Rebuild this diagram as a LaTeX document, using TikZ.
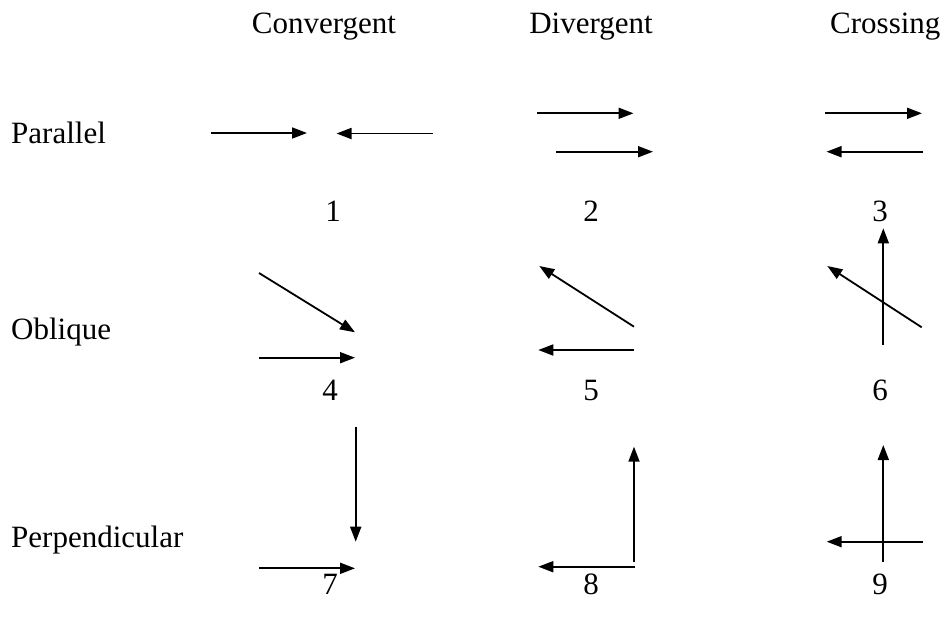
\documentclass[tikz,border=0pt]{standalone}
\usepackage{fontspec}
\setmainfont{Liberation Serif}
\usetikzlibrary{arrows.meta}
\begin{document}
\begin{tikzpicture}[x=1pt,y=-1pt,
  lbl/.style={inner sep=0pt,font=\fontsize{31}{36}\selectfont},
  arr/.style={line width=1.8pt,-{Triangle[length=15pt,width=11pt]}}]
\useasboundingbox (0,0) rectangle (942,625);
% headers
\node[lbl,anchor=base west] (hconv) at (251.7,33.3) {Convergent};
\node[lbl,anchor=base] (hdiv) at (591,33.3) {Divergent};
\node[lbl,anchor=base west] (hcross) at (830,33.3) {Crossing};
% row labels
\node[lbl,anchor=base west] (rpar) at (11,143.3) {Parallel};
\node[lbl,anchor=base west] (robl) at (11,339) {Oblique};
\node[lbl,anchor=base west] (rperp) at (11,547.3) {Perpendicular};
% numbers
\node[lbl,anchor=base] (n1) at (333,221) {1};
\node[lbl,anchor=base] (n2) at (591,221) {2};
\node[lbl,anchor=base] (n3) at (880,221) {3};
\node[lbl,anchor=base] (n4) at (330,400) {4};
\node[lbl,anchor=base] (n5) at (591,400) {5};
\node[lbl,anchor=base] (n6) at (880,400) {6};
\node[lbl,anchor=base] (n7) at (330,594.5) {7};
\node[lbl,anchor=base] (n8) at (591,594.5) {8};
\node[lbl,anchor=base] (n9) at (880,594.5) {9};
% 1
\coordinate (a1s) at (211,133); \coordinate (a1e) at (307,133);
\coordinate (b1s) at (433,133.5); \coordinate (b1e) at (336.5,133.5);
\draw[arr] (a1s) -- (a1e);
\draw[arr] (b1s) -- (b1e);
% 2
\coordinate (a2s) at (537,113.3); \coordinate (a2e) at (633.5,113.3);
\coordinate (b2s) at (556,151.7); \coordinate (b2e) at (653,151.7);
\draw[arr] (a2s) -- (a2e);
\draw[arr] (b2s) -- (b2e);
% 3
\coordinate (a3s) at (825,113.3); \coordinate (a3e) at (922,113.3);
\coordinate (b3s) at (923,151.7); \coordinate (b3e) at (826.5,151.7);
\draw[arr] (a3s) -- (a3e);
\draw[arr] (b3s) -- (b3e);
% 4
\coordinate (a4s) at (259,273); \coordinate (a4e) at (355,332.3);
\coordinate (b4s) at (259,357.7); \coordinate (b4e) at (355,357.7);
\draw[arr] (a4s) -- (a4e);
\draw[arr] (b4s) -- (b4e);
% 5
\coordinate (a5s) at (634,326.7); \coordinate (a5e) at (539.3,266);
\coordinate (b5s) at (634,350); \coordinate (b5e) at (538.3,350);
\draw[arr] (a5s) -- (a5e);
\draw[arr] (b5s) -- (b5e);
% 6
\coordinate (a6s) at (883.3,345); \coordinate (a6e) at (883.3,228.3);
\coordinate (b6s) at (921.7,327.3); \coordinate (b6e) at (827.3,266);
\draw[arr] (a6s) -- (a6e);
\draw[arr] (b6s) -- (b6e);
% 7
\coordinate (a7s) at (355.7,426.7); \coordinate (a7e) at (355.7,541.7);
\coordinate (b7s) at (259,568.3); \coordinate (b7e) at (355,568.3);
\draw[arr] (a7s) -- (a7e);
\draw[arr] (b7s) -- (b7e);
% 8
\coordinate (a8s) at (634,561.7); \coordinate (a8e) at (634,446.7);
\coordinate (b8s) at (635,566.7); \coordinate (b8e) at (538.3,566.7);
\draw[arr] (a8s) -- (a8e);
\draw[arr] (b8s) -- (b8e);
% 9
\coordinate (a9s) at (883.3,561.7); \coordinate (a9e) at (883.3,445);
\coordinate (b9s) at (922.7,541.7); \coordinate (b9e) at (826.7,541.7);
\draw[arr] (a9s) -- (a9e);
\draw[arr] (b9s) -- (b9e);
\end{tikzpicture}
\end{document}
